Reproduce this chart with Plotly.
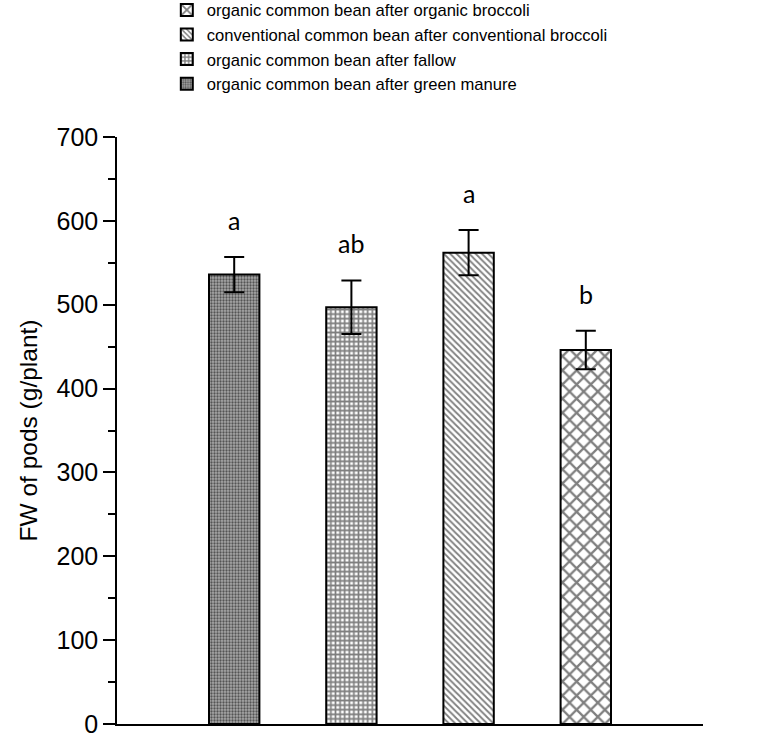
import plotly.graph_objects as go

# bars from left to right
treatments = [
    "organic common bean after green manure",
    "organic common bean after fallow",
    "conventional common bean after conventional broccoli",
    "organic common bean after organic broccoli",
]
means = [536, 497, 562, 446]
errors = [21, 32, 27, 23]
letters = ["a", "ab", "a", "b"]

# fill patterns (shape, background, pattern size)
patterns = [
    dict(shape=".", fgcolor="black", bgcolor="#a8a8a8", size=3, solidity=0.45),
    dict(shape="+", fgcolor="black", bgcolor="white", size=4.6, solidity=0.6),
    dict(shape="\\", fgcolor="black", bgcolor="white", size=4.5, solidity=0.4),
    dict(shape="x", fgcolor="black", bgcolor="white", size=10, solidity=0.4),
]

fig = go.Figure()
for name, m, e, p in zip(treatments, means, errors, patterns):
    fig.add_trace(go.Bar(
        x=[name], y=[m], name=name, width=0.43,
        marker=dict(color="white", line=dict(color="black", width=2), pattern=p),
        error_y=dict(type="data", array=[e], color="black", thickness=2, width=10),
    ))

### significance letters above error bars
for name, m, e, t in zip(treatments, means, errors, letters):
    fig.add_annotation(x=name, y=m + e, text=t, showarrow=False, yshift=37,
                       font=dict(family="Lato", size=25, color="black"))

fig.update_layout(
    width=777, height=736,
    plot_bgcolor="white", paper_bgcolor="white",
    barmode="overlay",
    margin=dict(l=117, r=74, t=137, b=12, autoexpand=False),
    font=dict(family="Liberation Sans, Arial", color="black"),
    legend=dict(x=0.085, y=1.246, xanchor="left", yanchor="top",
                traceorder="reversed", font=dict(size=16.6), bgcolor="rgba(0,0,0,0)",
                tracegroupgap=0),
    showlegend=True,
)
fig.update_xaxes(type="category", range=[-1, 4], showticklabels=False, ticks="",
                 showline=True, linecolor="black", linewidth=2, showgrid=False, zeroline=False)
fig.update_yaxes(range=[0, 700], dtick=100, ticks="outside", ticklen=12, tickwidth=1.5, tickcolor="black",
                 minor=dict(dtick=50, ticks="outside", ticklen=7, tickwidth=1.5, tickcolor="black"),
                 showline=True, linecolor="black", linewidth=1.5, showgrid=False, zeroline=False,
                 tickfont=dict(size=25), ticklabeloverflow="allow",
                 title=dict(text="FW of pods (g/plant)", font=dict(size=24.5), standoff=12))

# page body has an 8px margin by default, drop it so the figure sits at the corner
fig.write_html("out.html", config={"displayModeBar": False},
               post_script="document.body.style.margin='0px';")
